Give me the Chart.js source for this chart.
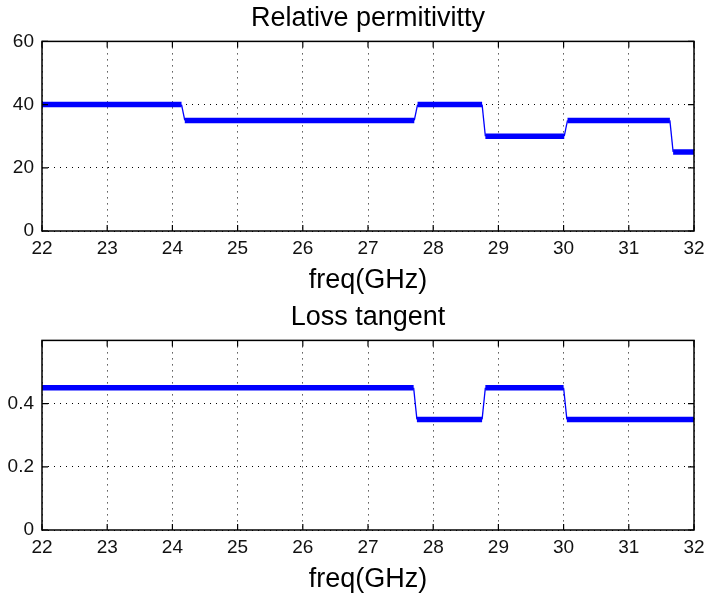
<!DOCTYPE html>
<html>
<head>
<meta charset="utf-8">
<script src="https://cdn.jsdelivr.net/npm/chart.js@4/dist/chart.umd.min.js"></script>
<style>
  html, body { margin: 0; padding: 0; background: #fff; }
  .box { position: absolute; left: 0; width: 705px; height: 299px; }
  #topBox { top: 0; }
  #botBox { top: 299px; }
</style>
</head>
<body>
<div class="box" id="topBox"><canvas id="perm" width="705" height="299"></canvas></div>
<div class="box" id="botBox"><canvas id="loss" width="705" height="299"></canvas></div>
<script>
// Data
const permFreq  = [22, 24.14, 24.19, 27.71, 27.76, 28.75, 28.8, 30.01, 30.06, 31.63, 31.68, 32];
const permValue = [40, 40,    35,    35,    40,    40,    30,   30,    35,    35,    25,    25];

const lossFreq  = [22,   27.7, 27.75, 28.75, 28.8, 30.0, 30.05, 32];
const lossValue = [0.45, 0.45, 0.35,  0.35,  0.45, 0.45, 0.35,  0.35];

const freqTicks = [22, 23, 24, 25, 26, 27, 28, 29, 30, 31, 32];
const permTicks = [0, 20, 40, 60];
const lossTicks = [0, 0.2, 0.4];

const FONT = '"Liberation Sans", Arial, sans-serif';
const BLUE = 'rgb(0,0,255)';

// Helpers
const toPoints = (xs, ys) => xs.map((x, i) => ({ x, y: ys[i] }));

// Box + inward tick marks, matlab style
const framePlugin = {
  id: 'frame',
  afterDraw(chart) {
    const { ctx, chartArea: a, scales: { x, y } } = chart;
    ctx.save();
    ctx.strokeStyle = '#000';
    ctx.lineWidth = 1.5;
    ctx.strokeRect(a.left, a.top, a.right - a.left, a.bottom - a.top);
    ctx.lineWidth = 1.2;
    ctx.beginPath();
    x.ticks.forEach(t => {
      const px = x.getPixelForValue(t.value);
      ctx.moveTo(px, a.bottom); ctx.lineTo(px, a.bottom - 6);
      ctx.moveTo(px, a.top);    ctx.lineTo(px, a.top + 6);
    });
    y.ticks.forEach(t => {
      const py = y.getPixelForValue(t.value);
      ctx.moveTo(a.left, py);  ctx.lineTo(a.left + 6, py);
      ctx.moveTo(a.right, py); ctx.lineTo(a.right - 6, py);
    });
    ctx.stroke();
    ctx.restore();
  }
};

function makeChart(id, title, xs, ys, yMax, yTicks, fmt) {
  return new Chart(document.getElementById(id), {
    type: 'line',
    data: {
      datasets: [{
        data: toPoints(xs, ys),
        borderColor: BLUE,
        backgroundColor: BLUE,
        pointRadius: 0,
        borderCapStyle: 'butt',
        tension: 0,
        segment: {
          // flat runs are the dense star markers, risers are the thin line
          borderWidth: c => c.p0.parsed.y === c.p1.parsed.y ? 5.5 : 1.3
        }
      }]
    },
    options: {
      responsive: false,
      animation: false,
      layout: { padding: { left: 0, right: 11, top: 0, bottom: 0 } },
      plugins: {
        legend: { display: false },
        tooltip: { enabled: false },
        title: {
          display: true,
          fullSize: false,
          text: title,
          color: '#000',
          font: { family: FONT, size: 27, weight: 'normal', lineHeight: 1.2 },
          padding: { top: 2, bottom: 7 }
        }
      },
      scales: {
        x: {
          type: 'linear',
          min: 22, max: 32,
          afterBuildTicks: s => { s.ticks = freqTicks.map(v => ({ value: v })); },
          afterFit: s => { s.height = 68; s.paddingLeft = 0; s.paddingRight = 0; },
          ticks: { color: '#111', font: { family: FONT, size: 19 }, padding: 6, maxRotation: 0 },
          grid: { color: '#000', lineWidth: 1, drawTicks: false },
          border: { display: false, dash: [1, 5] },
          title: {
            display: true,
            text: 'freq(GHz)',
            color: '#000',
            font: { family: FONT, size: 27, weight: 'normal', lineHeight: 1.2 },
            padding: { top: 0, bottom: 2 }
          }
        },
        y: {
          min: 0, max: yMax,
          afterBuildTicks: s => { s.ticks = yTicks.map(v => ({ value: v })); },
          afterFit: s => { s.width = 42; },
          ticks: { color: '#111', font: { family: FONT, size: 19 }, padding: 8, callback: fmt },
          grid: { color: '#000', lineWidth: 1, drawTicks: false },
          border: { display: false, dash: [1, 5] }
        }
      }
    },
    plugins: [framePlugin]
  });
}

makeChart('perm', 'Relative permitivitty', permFreq, permValue, 60, permTicks, v => String(v));
makeChart('loss', 'Loss tangent', lossFreq, lossValue, 0.6, lossTicks, v => v === 0 ? '0' : v.toFixed(1));
</script>
</body>
</html>
